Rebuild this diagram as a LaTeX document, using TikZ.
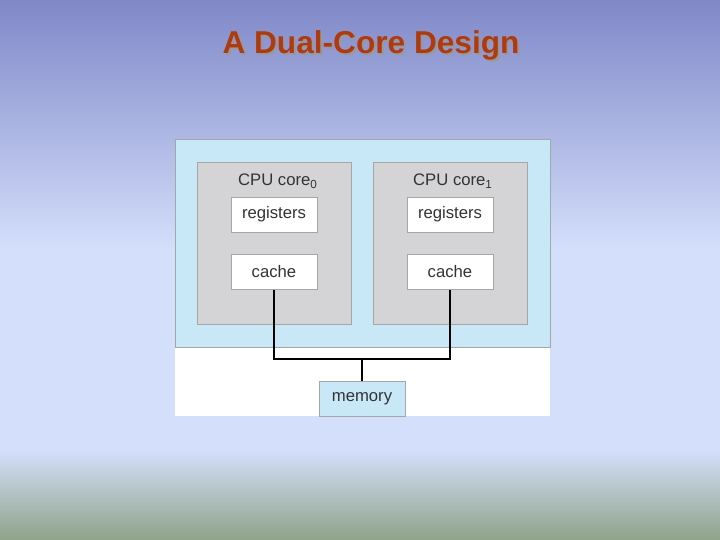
\documentclass[tikz,border=0pt]{standalone}
\usepackage{fontspec}
\setmainfont{Liberation Sans}
\usetikzlibrary{positioning}
\definecolor{bgtop}{RGB}{128,136,200}
\definecolor{bgmid}{RGB}{212,223,251}
\definecolor{bgbot}{RGB}{143,163,138}
\definecolor{chipblue}{RGB}{200,232,248}
\definecolor{coregray}{RGB}{212,212,214}
\definecolor{titlered}{RGB}{176,58,16}
\begin{document}
\begin{tikzpicture}[x=0.02cm,y=-0.02cm,
core/.style ={draw=gray!70,fill=coregray,minimum width=3.08cm,minimum height=3.24cm,inner sep=0pt},
part/.style ={draw=gray!70,fill=white,minimum width=1.72cm,minimum height=0.7cm,inner sep=0pt,text=black!80,font=\fontsize{9.5}{10}\selectfont},
label/.style ={text=black!80,font=\fontsize{9.5}{11}\selectfont},
bus/.style ={line width=1.2pt}]

% background
\shade[top color=bgtop,bottom color=bgmid] (0,0) rectangle (720,250);
\fill[bgmid] (0,250) rectangle (720,450);
\shade[top color=bgmid,bottom color=bgbot] (0,450) rectangle (720,540);
\useasboundingbox (0,0) rectangle (720,540);

\node[font=\bfseries\fontsize{18}{20}\selectfont,text=black!40] at (373,47) {A Dual-Core Design};
\node[font=\bfseries\fontsize{18}{20}\selectfont,text=titlered] (title) at (371,45) {A Dual-Core Design};

% chip
\fill[white] (175,347) rectangle (550,416);
\filldraw[draw=gray!70,fill=chipblue] (175,139) rectangle (550,347);

\node[core] (core0) at (274,243) {};
\node[core] (core1) at (450.5,243) {};
\node[label] (lab0) at (278,181) {CPU core\textsubscript{0}};
\node[label] (lab1) at (453,181) {CPU core\textsubscript{1}};

\node[part] (reg0) at (274,214.5) {registers};
\node[part] (reg1) at (450,214.5) {registers};
\node[part] (cache0) at (274,272) {cache};
\node[part] (cache1) at (450,272) {cache};

\node[part,fill=chipblue] (mem) at (362,398.5) {memory};

% bus
\coordinate (j0) at (274,359);
\coordinate (j1) at (450,359);
\coordinate (jm) at (362,359);
\draw[bus] (cache0.south) -- (j0) -- (j1) -- (cache1.south);
\draw[bus] (jm) -- (mem.north);

\end{tikzpicture}
\end{document}
